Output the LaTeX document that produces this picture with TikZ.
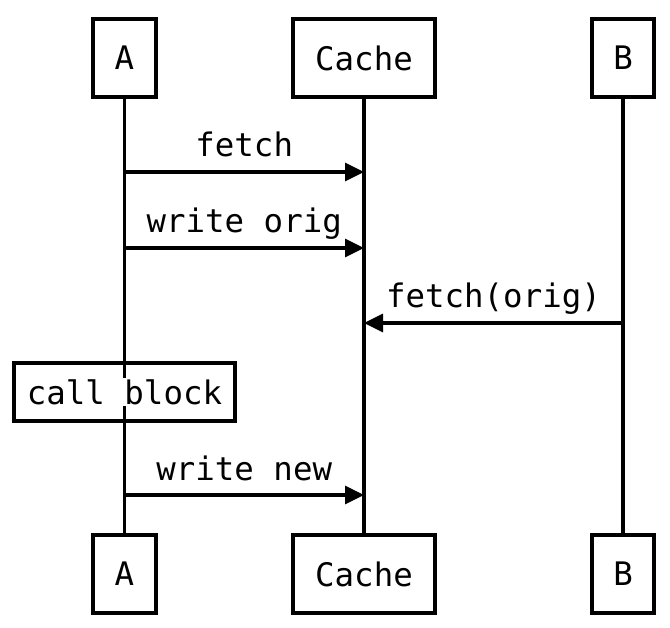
\documentclass[tikz,border=0pt]{standalone}
\usepackage{fontspec}
\setmonofont{DejaVu Sans Mono}
\usetikzlibrary{arrows.meta,positioning}

\begin{document}
\begin{tikzpicture}[x=1pt, y=-1pt, line width=3.4pt,
  every node/.style={font=\ttfamily\fontsize{32.4}{38}\selectfont},
  actor node/.style={draw, minimum height=78pt, inner sep=0pt},
  msg/.style={-{Triangle[length=19pt,width=18pt]}},
  lbl/.style={midway, anchor=base, yshift=15pt, inner sep=0pt}]
\useasboundingbox (0,0) rectangle (670,628);
% actors, top and bottom
\node[actor node, minimum width=63pt] (Atop) at (124.5,58) {A};
\node[actor node, minimum width=142pt] (Ctop) at (364,58) {Cache};
\node[actor node, minimum width=62pt] (Btop) at (623,58) {B};
\node[actor node, minimum width=63pt] (Abot) at (124.5,574) {A};
\node[actor node, minimum width=142pt] (Cbot) at (364,574) {Cache};
\node[actor node, minimum width=62pt] (Bbot) at (623,574) {B};
% lifelines
\draw (Atop) -- (Abot);
\draw (Ctop) -- (Cbot);
\draw (Btop) -- (Bbot);
% message ends
\coordinate (a1) at (124.5,172);
\coordinate (c1) at (364,172);
\coordinate (a2) at (124.5,248);
\coordinate (c2) at (364,248);
\coordinate (b3) at (623,323);
\coordinate (c3) at (364,323);
\coordinate (a4) at (124.5,495);
\coordinate (c4) at (364,495);
% messages
\draw[msg] (a1) -- node[lbl] {fetch} (c1);
\draw[msg] (a2) -- node[lbl] {write orig} (c2);
\draw[msg] (b3) -- node[lbl] {fetch(orig)} (c3);
\draw[msg] (a4) -- node[lbl] {write new} (c4);
% call block
\node[draw, minimum width=221pt, minimum height=58pt] (callbox) at (124.5,392) {};
\node[fill=white, inner sep=1pt] (calltxt) at (callbox) {call block};
\end{tikzpicture}
\end{document}
